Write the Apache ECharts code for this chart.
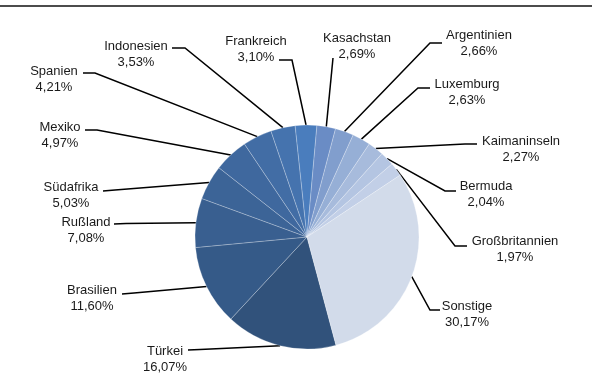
<!DOCTYPE html>
<html>
<head>
<meta charset="utf-8">
<script src="https://cdn.jsdelivr.net/npm/echarts@6/dist/echarts.min.js"></script>
<style>
  html, body { margin: 0; padding: 0; background: #fff; }
  #chart { width: 592px; height: 385px; }
</style>
</head>
<body>
<div id="chart"></div>
<script>
// Anteile nach Ländern (in %), im Uhrzeigersinn ab Türkei
const countries = ['Türkei', 'Brasilien', 'Rußland', 'Südafrika', 'Mexiko', 'Spanien', 'Indonesien',
  'Frankreich', 'Kasachstan', 'Argentinien', 'Luxemburg', 'Kaimaninseln', 'Bermuda',
  'Großbritannien', 'Sonstige'];
const shares = [16.07, 11.60, 7.08, 5.03, 4.97, 4.21, 3.53, 3.10, 2.69, 2.66, 2.63, 2.27, 2.04, 1.97, 30.17];

// Blautöne von dunkel nach hell
const palette = ['#31527b', '#355a88', '#395f90', '#3c6497', '#3f689e', '#426da5', '#4573ae',
  '#4a7dbd', '#6a8cc5', '#819ecd', '#96afd6', '#a7bbdc', '#b4c5e2', '#c2cfe7', '#d2dbea'];

// Beschriftungsmitte je Segment
const labelAnchor = [
  [165, 359], [92, 298], [86, 230], [71, 195], [60, 135], [54, 79], [136, 54],
  [256, 49], [357, 46], [479, 43], [467, 92], [521, 149], [486, 194], [515, 249], [467, 314]
];
// Führungslinie: Knickpunkt und Endpunkt an der Beschriftung
const leader = [
  [[200, 349.5], [188, 350]],
  [[134, 293], [122, 294]],
  [[126, 223.5], [114, 224]],
  [[115, 190], [103, 191]],
  [[97, 130], [85, 130]],
  [[95, 73], [83, 73]],
  [[185, 48], [172, 48]],
  [[292, 60], [279, 60]],
  [[333, 58], [333, 58]],
  [[430, 43], [442, 43]],
  [[418, 88], [430, 88]],
  [[465, 144], [477, 144]],
  [[445, 191], [456, 191]],
  [[455, 246], [467, 246]],
  [[430, 310], [440, 310]]
];

const fmt = v => v.toFixed(2).replace('.', ',') + '%';

const chart = echarts.init(document.getElementById('chart'), null, { renderer: 'canvas' });

chart.setOption({
  animation: false,
  backgroundColor: '#ffffff',
  graphic: [{
    type: 'line',
    shape: { x1: 0, y1: 6, x2: 592, y2: 6 },
    style: { stroke: '#111', lineWidth: 1.6 },
    silent: true
  }],
  series: [{
    type: 'pie',
    center: [307, 237],
    radius: 112,
    startAngle: -75,
    clockwise: true,
    avoidLabelOverlap: false,
    minShowLabelAngle: 0,
    emphasis: { disabled: true },
    itemStyle: { borderColor: 'rgba(255,255,255,0.35)', borderWidth: 0.7 },
    label: {
      show: true,
      position: 'outside',
      formatter: p => p.name + '\n' + fmt(p.value),
      fontFamily: 'Liberation Sans, Arial, sans-serif',
      fontSize: 13,
      lineHeight: 16,
      color: '#1a1a1a'
    },
    labelLine: {
      show: true,
      length: 10,
      length2: 10,
      smooth: false,
      lineStyle: { color: '#000', width: 1.5 }
    },
    labelLayout: function (p) {
      const i = p.dataIndex;
      const pts = p.labelLinePoints;
      const res = {
        x: labelAnchor[i][0],
        y: labelAnchor[i][1],
        align: 'center',
        verticalAlign: 'middle'
      };
      if (pts && pts[0]) {
        res.labelLinePoints = [pts[0], leader[i][0], leader[i][1]];
      }
      return res;
    },
    data: countries.map((name, i) => ({
      name: name,
      value: shares[i],
      itemStyle: { color: palette[i] }
    }))
  }]
});
</script>
</body>
</html>
